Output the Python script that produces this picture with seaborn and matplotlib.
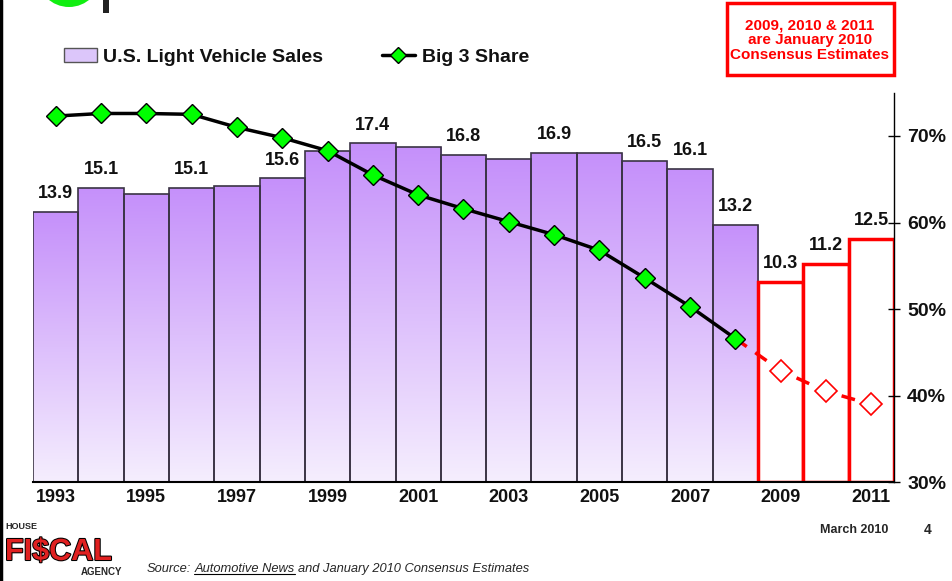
import matplotlib
matplotlib.use("Agg")
import numpy as np
import pandas as pd
import matplotlib.pyplot as plt
import matplotlib.patheffects as pe
import seaborn as sns
from matplotlib.colors import LinearSegmentedColormap
from matplotlib.patches import Rectangle, Circle, Patch
from matplotlib.lines import Line2D

# data
years = [1993, 1994, 1995, 1996, 1997, 1998, 1999, 2000, 2001, 2002,
         2003, 2004, 2005, 2006, 2007, 2008, 2009, 2010, 2011]
sales = [13.9, 15.1, 14.8, 15.1, 15.2, 15.6, 17.0, 17.4, 17.2, 16.8,
         16.6, 16.9, 16.9, 16.5, 16.1, 13.2, 10.3, 11.2, 12.5]
sales_labels = ["13.9", "15.1", "", "15.1", "", "15.6", "", "17.4", "", "16.8",
                "", "16.9", "", "16.5", "16.1", "13.2", "10.3", "11.2", "12.5"]
big3_share = [72.3, 72.6, 72.6, 72.5, 71.0, 69.8, 68.3, 65.5, 63.2, 61.6,
              60.1, 58.6, 56.8, 53.6, 50.3, 46.6, 42.9, 40.5, 39.0]
is_estimate = [False] * 16 + [True] * 3
share_ticks = [30, 40, 50, 60, 70]

sns.set_style("white")
plt.rcParams['font.family'] = ['Liberation Sans', 'DejaVu Sans']
plt.rcParams['font.weight'] = 'bold'

W, H = 952, 581
fig = plt.figure(figsize=(W / 100, H / 100), dpi=100)
ax = fig.add_axes([33 / W, 1 - 482.3 / H, (894 - 33) / W, (482.3 - 92.7) / H])

df = pd.DataFrame({"year": [str(y) for y in years], "sales": sales})
sns.barplot(data=df, x="year", y="sales", ax=ax, width=1.0, color="#c896fa",
            saturation=1, edgecolor="#3a3344", linewidth=1.2)

# gradient fill per bar (dark at the top, pale at the bottom)
grad_cmap = LinearSegmentedColormap.from_list("lav", ["#f5eefe", "#c590fa"])
grad = np.linspace(0, 1, 256).reshape(-1, 1)
for bar, est in zip(ax.patches, is_estimate):
    x0, w, h = bar.get_x(), bar.get_width(), bar.get_height()
    if est:
        bar.set_facecolor("white")
        bar.set_edgecolor("#ff0000")
        bar.set_linewidth(2.5)
        bar.set_zorder(2)
    else:
        bar.set_facecolor("none")
        im = ax.imshow(grad, extent=(x0, x0 + w, 0, h), origin="lower",
                       aspect="auto", cmap=grad_cmap, zorder=0.9)
        im.set_clip_path(bar)

ax.set_xlim(-0.5, len(years) - 0.5)
ax.set_ylim(0, 20)
ax.bar_label(ax.containers[0], labels=sales_labels, padding=7,
             fontsize=13, fontweight="bold", color="#111111")

ax.set_xticks(range(0, len(years), 2))
ax.set_xticklabels([str(y) for y in years[::2]], fontsize=13, fontweight="bold", color="#111111")
ax.set_xticks(np.arange(-0.5, len(years), 1), minor=True)
ax.tick_params(axis="x", which="major", length=0, pad=5)
ax.tick_params(axis="x", which="minor", length=5, width=1, direction="out", color="black")
ax.set_yticks([])
ax.set_xlabel("")
ax.set_ylabel("")
for s in ["left", "top", "right"]:
    ax.spines[s].set_visible(False)
ax.spines["bottom"].set_color("black")
ax.spines["bottom"].set_linewidth(1.5)

# Big 3 share on the right axis
ax2 = ax.twinx()
x_pos = np.arange(len(years))
n_act = is_estimate.index(True)
sns.lineplot(x=x_pos[n_act - 1:], y=big3_share[n_act - 1:], ax=ax2, color="#ff0000",
             linewidth=2.5, linestyle=(0, (4, 3)), zorder=2)
ax2.plot(x_pos[n_act:], big3_share[n_act:], linestyle="none", marker="D", markersize=11,
         markerfacecolor="white", markeredgecolor="#ff0000", markeredgewidth=1.2, zorder=3)
sns.lineplot(x=x_pos[:n_act], y=big3_share[:n_act], ax=ax2, color="black", linewidth=2.5,
             marker="D", markersize=10.5, markerfacecolor="#00ff00",
             markeredgecolor="black", markeredgewidth=1, zorder=4)
ax2.set_ylim(30, 75)
ax2.set_yticks(share_ticks)
ax2.set_yticklabels([f"{t}%" for t in share_ticks], fontsize=14, fontweight="bold", color="#111111")
ax2.tick_params(axis="y", direction="inout", length=9, width=1, pad=5, color="black")
ax2.set_ylabel("")
for s in ["left", "top", "bottom"]:
    ax2.spines[s].set_visible(False)
ax2.spines["right"].set_color("black")
ax2.spines["right"].set_linewidth(1)

# legend above the plot
handles = [Patch(facecolor="#dcc6fa", edgecolor="#555555", linewidth=1),
           Line2D([], [], color="black", linewidth=2.5, marker="D", markersize=8,
                  markerfacecolor="#00ff00", markeredgecolor="black")]
fig.legend(handles, ["U.S. Light Vehicle Sales", "Big 3 Share"], loc="center left",
           bbox_to_anchor=(46 / W, 1 - 57 / H), ncol=2, frameon=False,
           prop={"size": 14, "weight": "bold"}, labelcolor="#111111",
           handlelength=1.7, handleheight=0.75, handletextpad=0.35, columnspacing=3.0)

# note box
fig.add_artist(Rectangle((727 / W, 1 - 75 / H), (894 - 727) / W, 72 / H,
                         transform=fig.transFigure, fill=False, edgecolor="#ff0000", linewidth=2.5))
fig.text(810 / W, 1 - 40 / H, "2009, 2010 & 2011\nare January 2010\nConsensus Estimates",
         ha="center", va="center", color="#ff0000", fontsize=11, fontweight="bold",
         linespacing=1.08)

# slide decorations
fig.add_artist(Line2D([1 / W, 1 / W], [0, 1], transform=fig.transFigure, color="black", linewidth=2.5))
fig.add_artist(Circle((0.69, (H + 25) / 100), 0.32, transform=fig.dpi_scale_trans,
                      facecolor="#11ee11", edgecolor="none"))
fig.add_artist(Rectangle((103 / W, 1 - 13 / H), 6 / W, 13 / H, transform=fig.transFigure,
                         facecolor="#222222", edgecolor="none"))

# logo
fig.text(5 / W, 1 - 531 / H, "HOUSE", fontsize=6.5, fontweight="bold", va="bottom")
fig.text(5 / W, 1 - 560 / H, "FI$CAL", fontsize=22, fontweight="bold", va="baseline",
         color="#e02020", path_effects=[pe.withStroke(linewidth=1.5, foreground="black")])
fig.text(122 / W, 1 - 567 / H, "AGENCY", fontsize=7, fontweight="bold", va="top", ha="right")

# footer
y_src = 1 - 572 / H
src_kw = dict(fontsize=9.3, style="italic", fontweight="normal", va="baseline")
t1 = fig.text(147 / W, y_src, "Source:", **src_kw)
fig.canvas.draw()
r = fig.canvas.get_renderer()
b1 = t1.get_window_extent(r)
t2 = fig.text((b1.x1 + 3) / W, y_src, "Automotive News", **src_kw)
b2 = t2.get_window_extent(r)
fig.add_artist(Line2D([b2.x0 / W, b2.x1 / W], [y_src - 2 / H, y_src - 2 / H],
                      transform=fig.transFigure, color="black", linewidth=0.8))
fig.text((b2.x1 + 3) / W, y_src, "and January 2010 Consensus Estimates", **src_kw)
fig.text(888 / W, 1 - 530 / H, "March 2010", fontsize=9, fontweight="bold", ha="right", va="center")
fig.text(928 / W, 1 - 530 / H, "4", fontsize=10, fontweight="bold", ha="center", va="center")

fig.savefig("out.png", dpi=100)
